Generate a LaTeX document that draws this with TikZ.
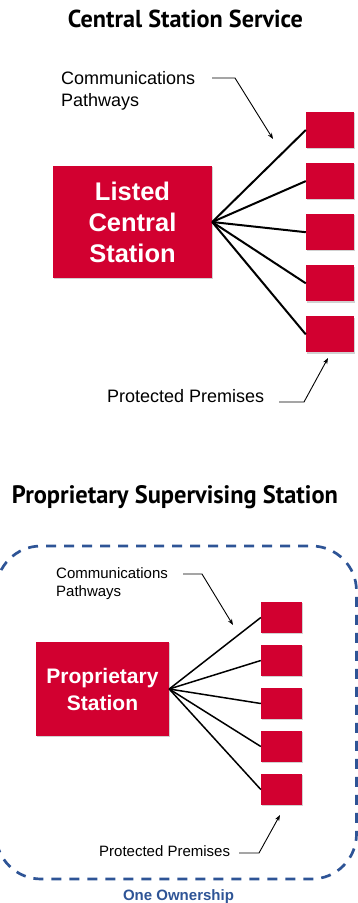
\documentclass[tikz,border=0pt]{standalone}
\usepackage{fontspec}
\setmainfont{Liberation Sans}
\newfontfamily\titlefont{PT Sans}
\usetikzlibrary{arrows.meta,shadows}
\definecolor{ulred}{RGB}{210,0,48}
\definecolor{ulblue}{RGB}{46,84,150}
\begin{document}
\begin{tikzpicture}[x=1pt,y=-1pt,
  bigbox/.style={fill=ulred, text=white, align=center, inner sep=0pt,
    drop shadow={shadow xshift=1.2pt,shadow yshift=-1.2pt,opacity=0.3,fill=black!60}},
  smallbox/.style={fill=ulred, inner sep=0pt,
    drop shadow={shadow xshift=1.2pt,shadow yshift=-1.2pt,opacity=0.3,fill=black!60}},
  pathline/.style={draw=black, line width=#1},
  leader/.style={draw=black, line width=0.9pt, -{Stealth[length=6pt,width=4.5pt]}},
  lbl/.style={inner sep=0pt, align=left},
  owner/.style={dashed, draw=ulblue, line width=2.7pt, dash pattern=on 10pt off 8pt, rounded corners=45pt}
]
\useasboundingbox (0,0) rectangle (358,903);

% ---------------- Top: Central Station Service ----------------
\node[inner sep=0pt, anchor=base] (t1) at (185.5,27)
  {\resizebox{235pt}{17.5pt}{\titlefont\bfseries Central Station Service}};

\node[bigbox, minimum width=159pt, minimum height=112pt,
      font=\fontsize{25.5}{31}\selectfont\bfseries] (L) at (132.5,222)
  {Listed\\Central\\Station};

\foreach \i in {1,...,5} {
  \node[smallbox, minimum width=48pt, minimum height=36pt] (s\i) at (330,{130+51.1*(\i-1)}) {};
  \draw[pathline=2pt] (L.east) -- (s\i.west);
}

\node[lbl, anchor=north west, font=\fontsize{18}{22}\selectfont] (cp1) at (61,71)
  {Communications\\Pathways};
\coordinate (cp1a) at (212,78);
\coordinate (cp1b) at (235,78);
\coordinate (cp1c) at (273,139);
\draw[leader] (cp1a) -- (cp1b) -- (cp1c);

\node[inner sep=0pt, anchor=base west, font=\fontsize{18}{22}\selectfont] (pp1) at (107,402)
  {Protected Premises};
\coordinate (pp1a) at (279,402);
\coordinate (pp1b) at (304,402);
\coordinate (pp1c) at (328,358);
\draw[leader] (pp1a) -- (pp1b) -- (pp1c);

% ---------------- Bottom: Proprietary Supervising Station ----------------
\node[inner sep=0pt, anchor=base] (t2) at (175,503)
  {\resizebox{326pt}{18pt}{\titlefont\bfseries Proprietary Supervising Station}};

\draw[owner] (-4,546) rectangle (356.5,879);

\node[bigbox, minimum width=133pt, minimum height=94pt,
      font=\fontsize{21}{27}\selectfont\bfseries] (P) at (102.5,689)
  {Proprietary\\Station};

\foreach \i in {1,...,5} {
  \node[smallbox, minimum width=41pt, minimum height=31pt] (q\i) at (281.5,{617.5+43*(\i-1)}) {};
  \draw[pathline=1.5pt] (P.east) -- (q\i.west);
}

\node[lbl, anchor=north west, font=\fontsize{15}{18.5}\selectfont] (cp2) at (56,567)
  {Communications\\Pathways};
\coordinate (cp2a) at (183,574);
\coordinate (cp2b) at (202,574);
\coordinate (cp2c) at (233,625);
\draw[leader] (cp2a) -- (cp2b) -- (cp2c);

\node[inner sep=0pt, anchor=base west, font=\fontsize{15}{18}\selectfont] (pp2) at (99,856)
  {Protected Premises};
\coordinate (pp2a) at (239,853);
\coordinate (pp2b) at (259,853);
\coordinate (pp2c) at (280,815);
\draw[leader] (pp2a) -- (pp2b) -- (pp2c);

\node[inner sep=0pt, anchor=base, text=ulblue, font=\fontsize{15}{18}\selectfont\bfseries] (own) at (178.5,900)
  {One Ownership};

\end{tikzpicture}
\end{document}
